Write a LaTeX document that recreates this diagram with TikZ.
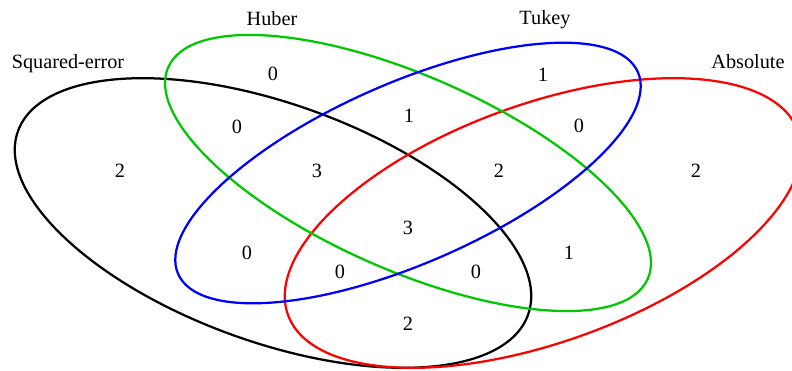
\documentclass[tikz,border=0pt]{standalone}
\usepackage{fontspec}
\setmainfont{Liberation Serif}
\usepackage{tikz}
\usetikzlibrary{shapes.geometric}

\definecolor{hubergreen}{RGB}{0,200,0}

\begin{document}
\begin{tikzpicture}[
    x=0.025cm, y=-0.025cm,
    venn/.style={
        ellipse,
        draw,
        line width=1.6pt,
        inner sep=0pt
    },
    num/.style={font=\fontsize{14.4}{17}\selectfont, inner sep=0pt},
    title/.style={font=\fontsize{14.4}{17}\selectfont, inner sep=0pt}
]
\useasboundingbox (0,0) rectangle (792,370);

% the four sets
\node[venn, draw=black, minimum width=13.55cm, minimum height=5.95cm, rotate=-19.8] (sq) at (273,223) {};
\node[venn, draw=red, minimum width=13.55cm, minimum height=5.95cm, rotate=19.8] (abs) at (543,223) {};
\node[venn, draw=hubergreen, minimum width=13.1cm, minimum height=4.85cm, rotate=-23.8] (hub) at (408,173) {};
\node[venn, draw=blue, minimum width=12.55cm, minimum height=4.5cm, rotate=23.7] (tuk) at (408,173) {};

% set names
\node[title] (lsq) at (68,64) {Squared-error};
\node[title] (lhub) at (272,19) {Huber};
\node[title] (ltuk) at (545,20) {Tukey};
\node[title] (labs) at (748,62) {Absolute};

% counts
\node[num] (h) at (273,74) {0};
\node[num] (t) at (543,75) {1};
\node[num] (s) at (120,171) {2};
\node[num] (a) at (696,171) {2};
\node[num] (sh) at (237,127) {0};
\node[num] (ht) at (409,116) {1};
\node[num] (ta) at (579,126) {0};
\node[num] (sht) at (317,171) {3};
\node[num] (hta) at (499,171) {2};
\node[num] (shta) at (408,228) {3};
\node[num] (st) at (247,253) {0};
\node[num] (ha) at (569,253) {1};
\node[num] (sta) at (340,272) {0};
\node[num] (sha) at (476,272) {0};
\node[num] (sa) at (408,324) {2};

\end{tikzpicture}
\end{document}
